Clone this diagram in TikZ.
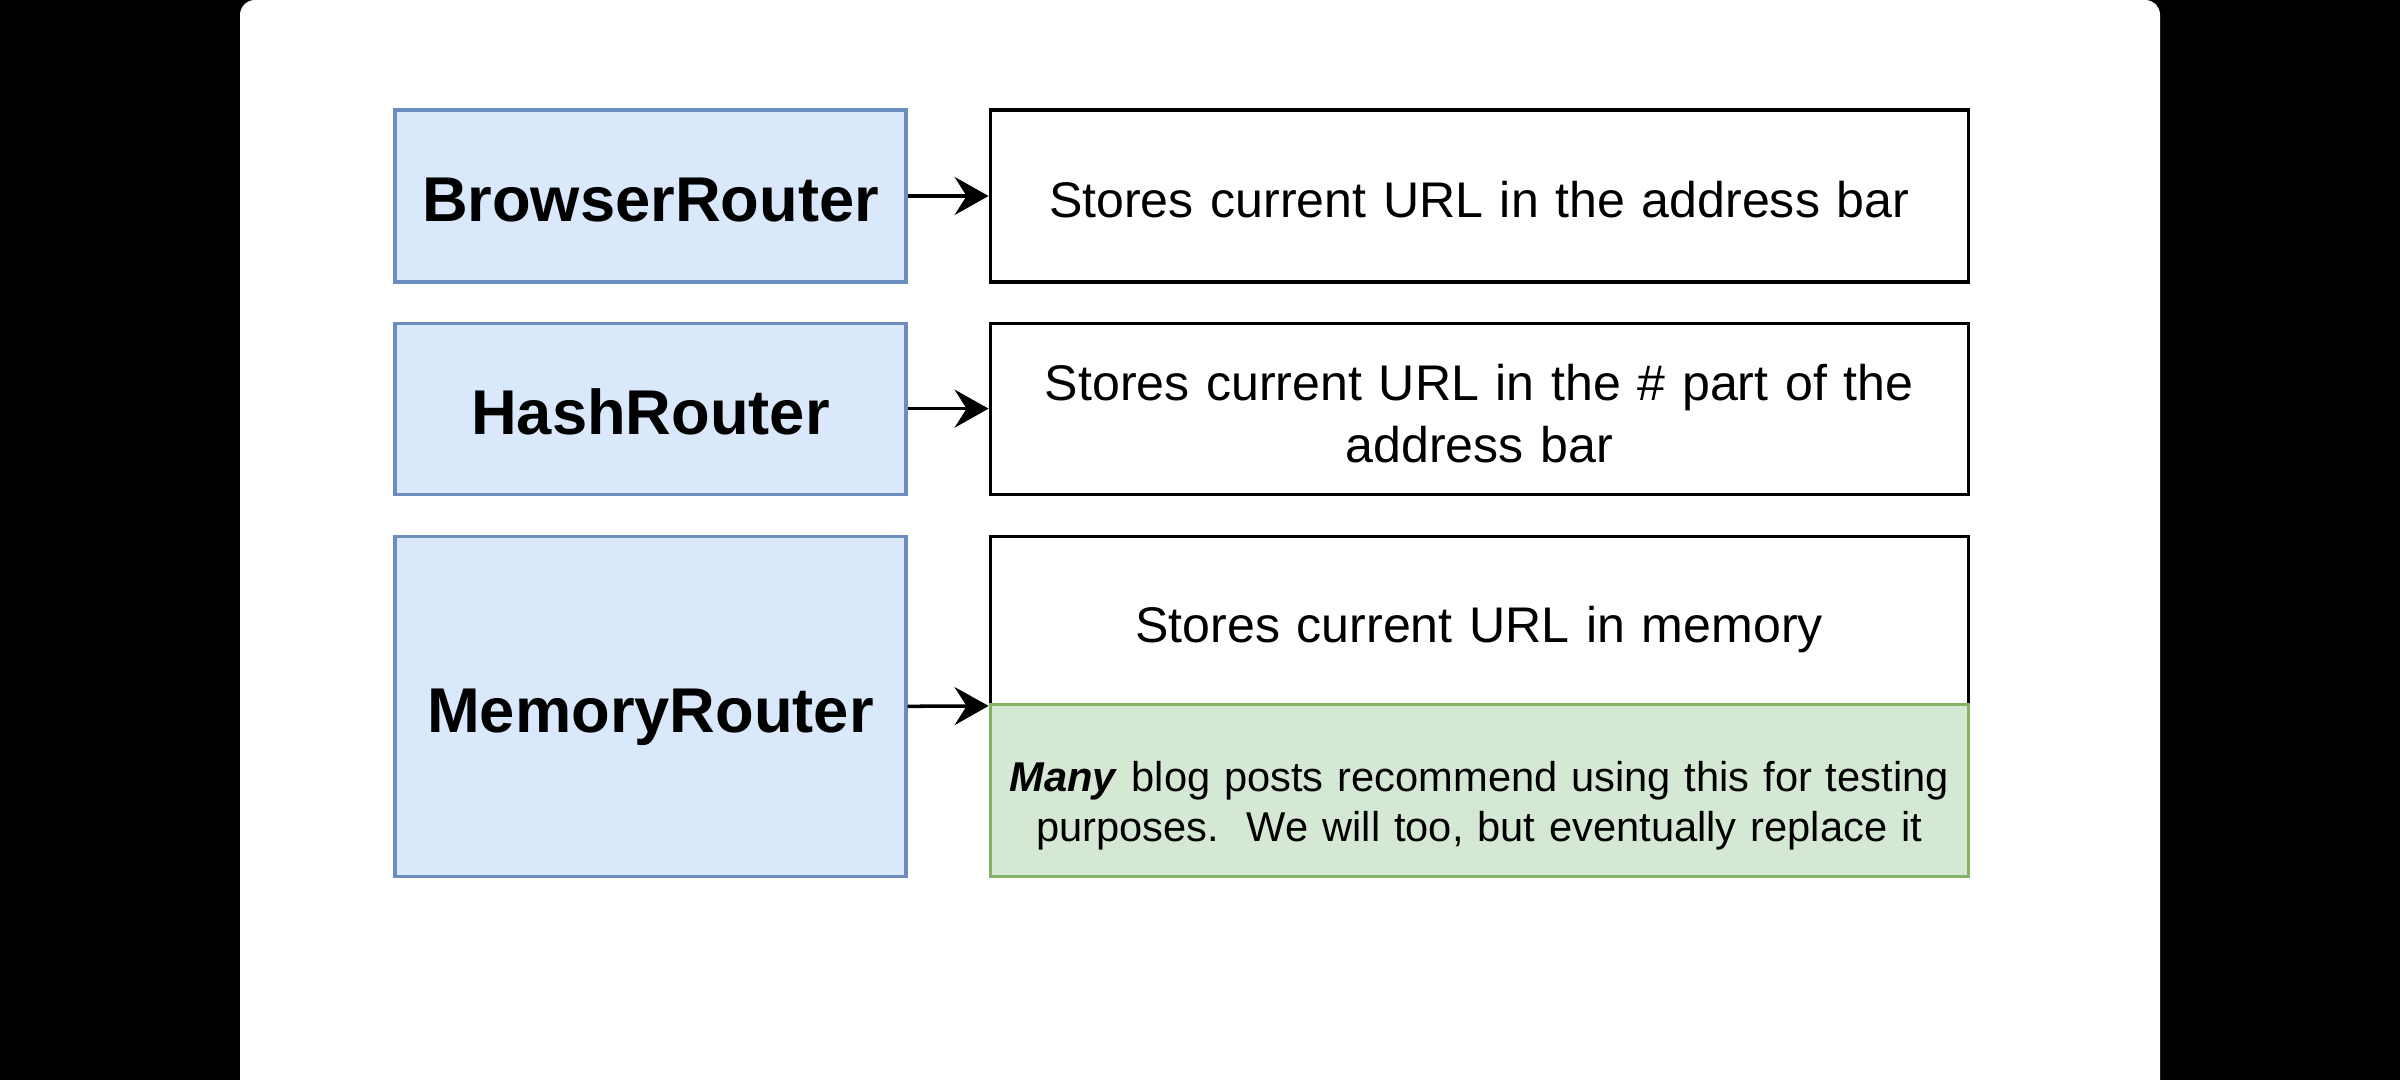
\documentclass[tikz,border=0pt]{standalone}
\usepackage{fontspec}
\setmainfont{Liberation Sans}
\usetikzlibrary{arrows.meta,positioning}
\definecolor{routerfill}{HTML}{DAE8FC}
\definecolor{routerline}{HTML}{6C8EBF}
\definecolor{hintfill}{HTML}{D5E8D4}
\definecolor{hintline}{HTML}{82B366}

\begin{document}
\begin{tikzpicture}[
    node distance=0.38cm,
    router/.style={rectangle,draw=routerline,fill=routerfill,line width=0.9pt,
        inner sep=0mm,minimum width=5.11cm,minimum height=1.71cm,
        font=\fontsize{18}{22}\selectfont\bfseries},
    note/.style={rectangle,draw=black,fill=white,line width=0.9pt,
        inner sep=0mm,text width=9.78cm,minimum height=1.71cm,
        align=center,font=\fontsize{14.25}{17.5}\selectfont},
    hint/.style={note,draw=hintline,fill=hintfill,
        font=\fontsize{11.85}{14.3}\selectfont},
    link/.style={-{Stealth[length=3.4mm,width=3.8mm,inset=1.2mm]},line width=1pt}
]
 % screen frame
 \useasboundingbox (0,0) rectangle (24,10.8);
 \fill[black] (0,0) rectangle (24,10.8);
 \fill[white,rounded corners=0.15cm] (2.4,-0.2) rectangle (21.6,10.8);

 \node[router,minimum height=1.72cm] (browser) at (6.505,8.84)
    {\rule{0pt}{14.8pt}BrowserRouter};
 \node[router] (hash) [below=of browser] {\rule{0pt}{14.8pt}HashRouter};
 \node[router,minimum height=3.40cm] (memory) [below=0.39cm of hash]
    {\rule{0pt}{18.5pt}MemoryRouter};

 \node[note,minimum height=1.72cm] (browsertxt) [right=0.81cm of browser]
    {\rule{0pt}{12.4pt}Stores current URL in the address bar};
 \node[note] (hashtxt) [right=0.81cm of hash]
    {\rule{0pt}{13pt}Stores current URL in the \# part of the\\address bar};
 \node[note,minimum height=1.68cm] (memorytxt) [below=0.39cm of hashtxt]
    {\rule{0pt}{15.5pt}Stores current URL in memory};
 \node[hint,minimum height=1.72cm] (memoryhint) [below=-0.03cm of memorytxt]
    {\rule{0pt}{17.2pt}\textbf{\textit{Many}} blog posts recommend using this for testing\\
     purposes.\ \ We will too, but eventually replace it};

 \draw[link] (browser) -- (browsertxt);
 \draw[link] (hash) -- (hashtxt);
 \draw[link] (memory.east) -- (memorytxt.south west);
\end{tikzpicture}
\end{document}
